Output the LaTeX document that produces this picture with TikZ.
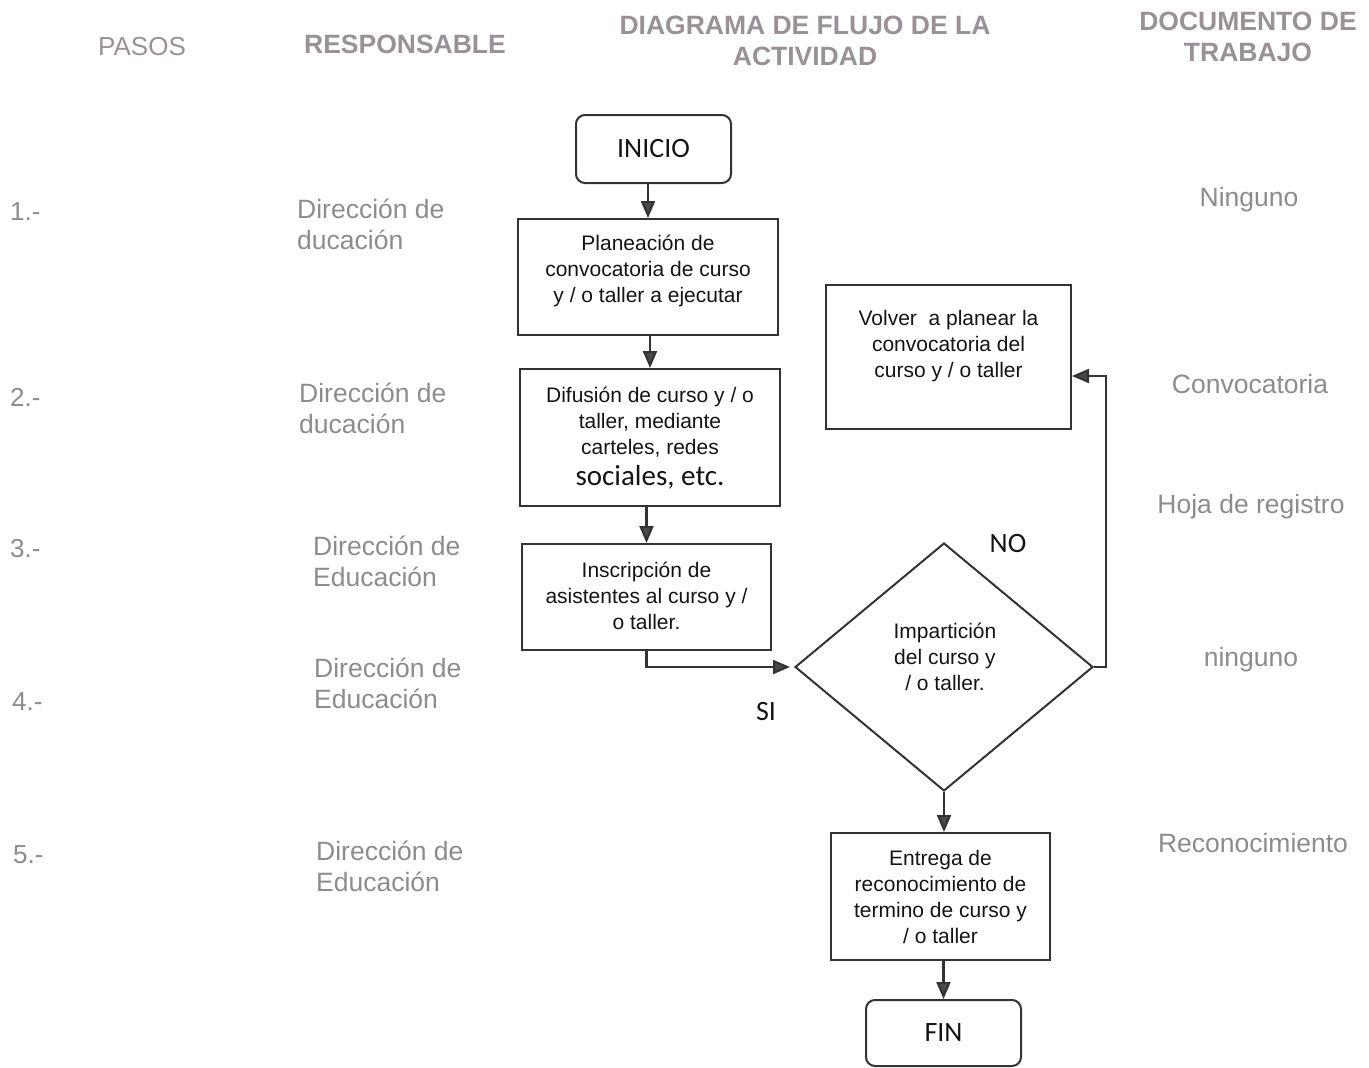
\documentclass[tikz,border=0pt]{standalone}
\usepackage{fontspec}
\setmainfont{Liberation Sans}
\newfontfamily\calib{Carlito}
\usetikzlibrary{shapes.geometric,arrows.meta}
\definecolor{linec}{HTML}{333333}
\definecolor{arrc}{HTML}{4A4A4A}
\definecolor{sidec}{HTML}{8C8C8C}
\definecolor{headc}{HTML}{9A9098}
\begin{document}
\begin{tikzpicture}[x=1pt,y=-1pt,
  box/.style={draw=linec,line width=2pt,rectangle,inner sep=0pt},
  term/.style={box,rounded corners=9pt},
  flowtxt/.style={align=center,font=\fontsize{21}{26}\selectfont,text=black!92},
  sidetxt/.style={align=left,anchor=west,inner sep=0pt,font=\fontsize{26.5}{31}\selectfont,text=sidec},
  doctxt/.style={align=center,font=\fontsize{26.5}{31}\selectfont,text=sidec},
  steptxt/.style={anchor=west,inner sep=0pt,font=\fontsize{26}{31}\selectfont,text=sidec},
  head/.style={align=center,font=\bfseries\fontsize{26.5}{31}\selectfont,text=headc},
  headplain/.style={align=center,font=\fontsize{26}{31}\selectfont,text=headc},
  calibtxt/.style={font=\calib\fontsize{28}{32}\selectfont,text=black!92},
  arr/.style={draw=linec,line width=2.2pt,-{Triangle[length=17pt,width=14pt,fill=arrc]}}]
\useasboundingbox (0,0) rectangle (1369,1068);

% headers
\node[headplain] (hpasos) at (142,47) {PASOS};
\node[head] (hresp) at (405,44) {RESPONSABLE};
\node[head] (hdiag) at (805,41) {DIAGRAMA DE FLUJO DE LA\\ACTIVIDAD};
\node[head] (hdoc) at (1248,37) {DOCUMENTO DE\\TRABAJO};

% steps
\node[steptxt] (s1) at (10,212) {1.-};
\node[steptxt] (s2) at (10,397) {2.-};
\node[steptxt] (s3) at (10,549) {3.-};
\node[steptxt] (s4) at (12,702) {4.-};
\node[steptxt] (s5) at (13,855) {5.-};

% responsables
\node[sidetxt] (r1) at (297,224) {Dirección de\\ducación};
\node[sidetxt] (r2) at (299,408) {Dirección de\\ducación};
\node[sidetxt] (r3) at (313,561) {Dirección de\\Educación};
\node[sidetxt] (r4) at (314,683) {Dirección de\\Educación};
\node[sidetxt] (r5) at (316,866) {Dirección de\\Educación};

% documentos
\node[doctxt] (d1) at (1249,200) {Ninguno};
\node[doctxt] (d2) at (1250,384) {Convocatoria};
\node[doctxt] (d3) at (1251,507) {Hoja de registro};
\node[doctxt] (d4) at (1251,660) {ninguno};
\node[doctxt] (d5) at (1253,843) {Reconocimiento};

% flowchart
\node[term,minimum width=155pt,minimum height=68pt,calibtxt] (inicio) at (653.5,149) {INICIO};
\node[box,minimum width=260pt,minimum height=116pt] (b1) at (648,277) {};
\node[flowtxt] (b1t) at (648,271) {Planeación de\\convocatoria de curso\\y / o taller a ejecutar};
\node[box,minimum width=260pt,minimum height=137pt] (b2) at (650,437.5) {};
\node[flowtxt] (b2t) at (650,438) {Difusión de curso y / o\\taller, mediante\\carteles, redes\\[5pt]{\calib\fontsize{29}{32}\selectfont sociales, etc.}};
\node[box,minimum width=249pt,minimum height=106pt] (b3) at (646.5,597) {};
\node[flowtxt] (b3t) at (646.5,596) {Inscripción de\\asistentes al curso y /\\o taller.};
\node[box,minimum width=245pt,minimum height=144pt] (b4) at (948.5,357) {};
\node[flowtxt] (b4t) at (948.5,346) {Volver\ \ a planear la\\convocatoria del\\curso y / o taller};
\node[draw=linec,line width=2pt,diamond,aspect=1.2,inner sep=0pt,minimum width=298pt,minimum height=248pt] (dia) at (944,667) {};
\node[flowtxt] (diat) at (945,657) {Impartición\\del curso y\\/ o taller.};
\node[box,minimum width=219pt,minimum height=127pt] (b5) at (940.5,896.5) {};
\node[flowtxt] (b5t) at (940.5,897) {Entrega de\\reconocimiento de\\termino de curso y\\/ o taller};
\node[term,minimum width=155pt,minimum height=66pt,calibtxt] (fin) at (943.5,1033) {FIN};

\node[calibtxt] (si) at (766,712) {SI};
\node[calibtxt] (no) at (1008,544) {NO};

% connectors
\draw[arr] (b1.north |- inicio.south) -- (b1.north);
\draw[arr] (b2.north |- b1.south) -- (b2.north);
\draw[arr] (b3.north |- b2.south) -- (b3.north);
\draw[arr] (b3.south) |- ([xshift=-4pt]dia.west);
\draw[arr] (dia.east) -- ++(12,0) |- ([yshift=-19pt]b4.east);
\draw[arr] (dia.south) -- (dia.south |- b5.north);
\draw[arr] (fin.north |- b5.south) -- (fin.north);
\end{tikzpicture}
\end{document}
